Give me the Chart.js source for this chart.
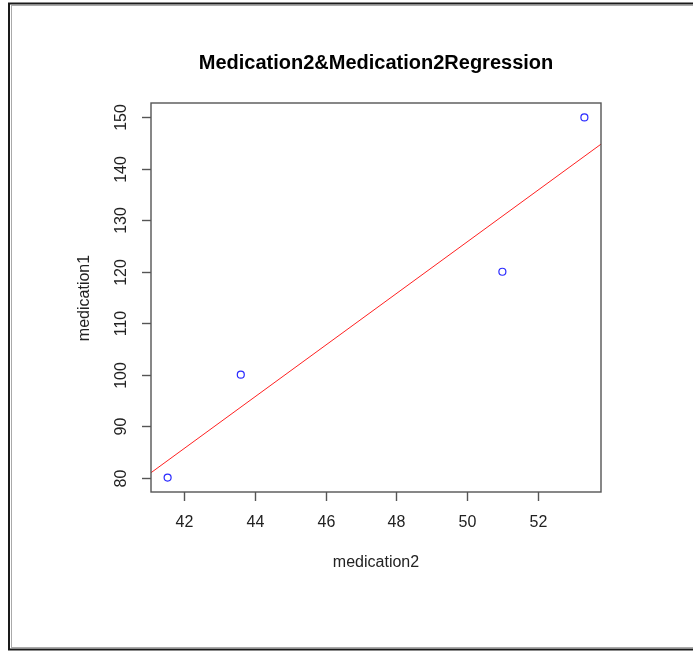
<!DOCTYPE html>
<html>
<head>
<meta charset="utf-8">
<script src="https://cdn.jsdelivr.net/npm/chart.js@4.4.1/dist/chart.umd.min.js"></script>
<style>
  body { margin: 0; background: #fff; }
  canvas { display: block; }
</style>
</head>
<body>
<canvas id="grafico" width="693" height="653"></canvas>
<script>
// datos
var medication2 = [41.53, 43.60, 51.00, 53.32];
var medication1 = [80, 100, 120, 150];
// recta de regresion (extremos en los bordes del area)
var regX = [41.06, 53.79];
var regY = [80.95, 144.8];
var ticksX = [42, 44, 46, 48, 50, 52];
var ticksY = [80, 90, 100, 110, 120, 130, 140, 150];
var titulo = 'Medication2&Medication2Regression';

var fuente = '"Liberation Sans", Arial, sans-serif';

var ejesR = {
  id: 'ejesR',
  afterDraw: function (chart) {
    var c = chart.ctx;
    var a = chart.chartArea;
    var sx = chart.scales.x, sy = chart.scales.y;
    c.save();
    // marco exterior
    c.strokeStyle = '#1a1a1a';
    c.lineWidth = 2;
    c.strokeRect(9, 3.5, 700, 646);
    c.strokeStyle = '#aaa';
    c.lineWidth = 1;
    c.strokeRect(11.5, 5.5, 700, 642);
    // caja del grafico
    c.strokeStyle = '#555';
    c.lineWidth = 1.4;
    c.strokeRect(a.left, a.top, a.right - a.left, a.bottom - a.top);
    c.fillStyle = '#222';
    c.font = '16px ' + fuente;
    c.textAlign = 'center';
    c.textBaseline = 'middle';
    // eje x
    ticksX.forEach(function (v) {
      var px = Math.round(sx.getPixelForValue(v)) + 0.5;
      c.beginPath();
      c.moveTo(px, a.bottom);
      c.lineTo(px, a.bottom + 9);
      c.stroke();
      c.fillText(String(v), px, 523);
    });
    // eje y
    ticksY.forEach(function (v) {
      var py = Math.round(sy.getPixelForValue(v)) + 0.5;
      c.beginPath();
      c.moveTo(a.left, py);
      c.lineTo(a.left - 9, py);
      c.stroke();
      c.save();
      c.translate(122, py);
      c.rotate(-Math.PI / 2);
      c.fillText(String(v), 0, 0);
      c.restore();
    });
    // titulos
    c.font = 'bold 20px ' + fuente;
    c.fillStyle = '#000';
    c.fillText(titulo, 376, 63);
    c.font = '16px ' + fuente;
    c.fillStyle = '#222';
    c.fillText('medication2', 376, 563);
    c.save();
    c.translate(85, 298);
    c.rotate(-Math.PI / 2);
    c.fillText('medication1', 0, 0);
    c.restore();
    c.restore();
  }
};

var ctx = document.getElementById('grafico');
var grafico = new Chart(ctx, {
  type: 'scatter',
  data: {
    datasets: [{
      label: 'puntos',
      data: medication2.map(function (x, i) { return { x: x, y: medication1[i] }; }),
      pointRadius: 3.5,
      pointBorderWidth: 1.2,
      borderColor: '#2a2aff',
      backgroundColor: 'rgba(0,0,0,0)',
      showLine: false
    }, {
      label: 'regresion',
      type: 'line',
      data: regX.map(function (x, i) { return { x: x, y: regY[i] }; }),
      borderColor: '#ff2020',
      borderWidth: 1,
      pointRadius: 0,
      fill: false
    }]
  },
  options: {
    responsive: false,
    animation: false,
    layout: { padding: { left: 151, top: 103, right: 92, bottom: 161 } },
    plugins: {
      legend: { display: false },
      tooltip: { enabled: false },
      title: { display: false }
    },
    scales: {
      x: { type: 'linear', display: false, min: 41.06, max: 53.79 },
      y: { type: 'linear', display: false, min: 77.2, max: 152.8 }
    }
  },
  plugins: [ejesR]
});
</script>
</body>
</html>
